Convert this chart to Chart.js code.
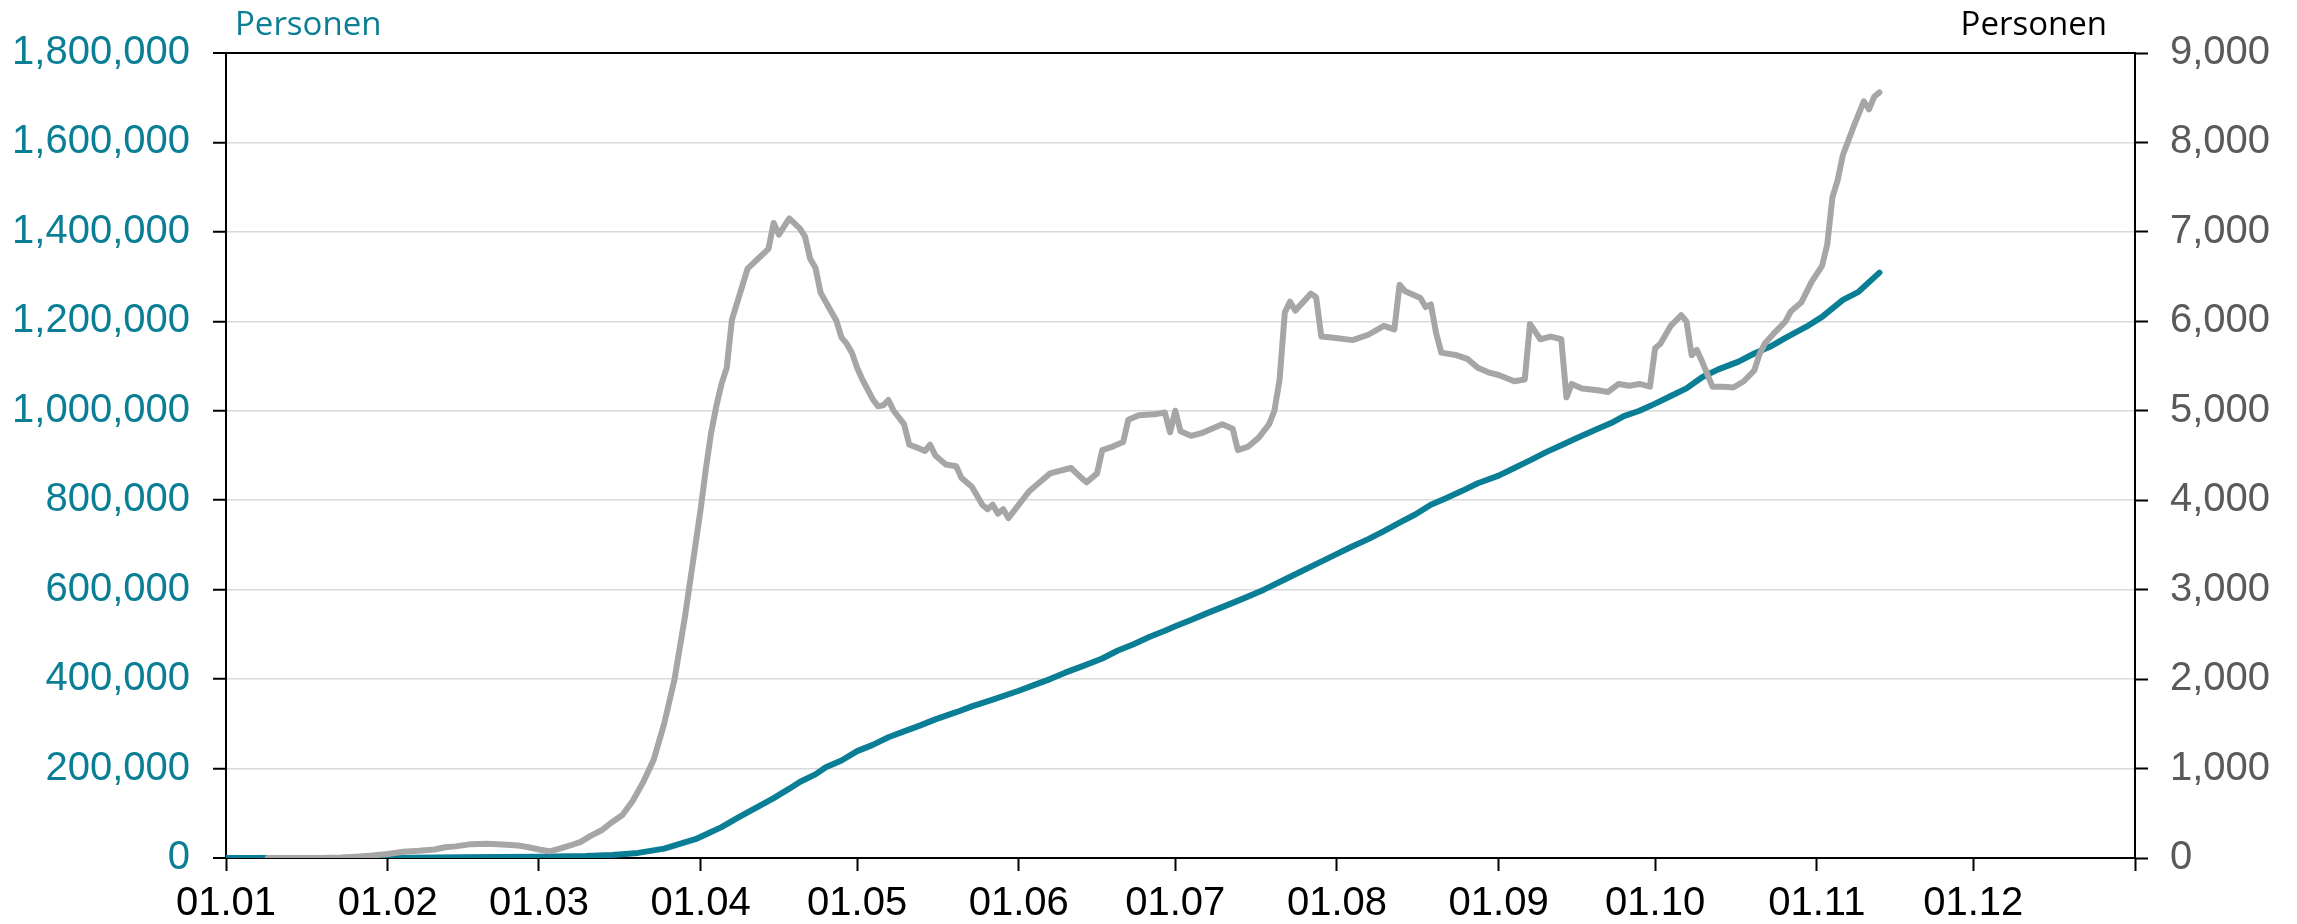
<!DOCTYPE html>
<html><head><meta charset="utf-8">
<script src="https://cdn.jsdelivr.net/npm/chart.js@4"></script>
<style>
html,body{margin:0;padding:0;background:#fff;}
#wrap{position:relative;width:2297px;height:924px;overflow:hidden;}
canvas{position:absolute;left:0;top:0;}
.ttl{position:absolute;font-family:"Open Sans",sans-serif;font-size:33px;line-height:33px;white-space:nowrap;}
</style></head><body>
<div id="wrap"><canvas id="c" width="2297" height="924"></canvas>
<div class="ttl" style="left:235px;top:6px;color:#0a7e95">Personen</div>
<div class="ttl" style="right:190px;top:6px;color:#000">Personen</div>
</div>
<script>
// x axis: day of year 2020 (0 = 01.01)
const monthStarts = [0,31,60,91,121,152,182,213,244,274,305,335,366];
const monthLabels = ['01.01','01.02','01.03','01.04','01.05','01.06','01.07','01.08','01.09','01.10','01.11','01.12',''];
const leftTicks = [0,200000,400000,600000,800000,1000000,1200000,1400000,1600000,1800000];
const rightTicks = [0,1000,2000,3000,4000,5000,6000,7000,8000,9000];

// Daily deaths (right axis), grey
const dailyDay = [8,18,22,25,28,31,34,37,40,42,44,47,50,53,56,58,60,62,64,66,68,70,72,74,76,78,80,82,84,86,87,88,89,90,91,92,93,94,95,96,97,100,102,104,105,106,108,110,111,112,113,114,117,118,119,120,121,122,124,125,126,127,128,130,131,132,134,135,136,137,138,140,141,143,145,146,147,148,149,150,152,154,156,158,160,162,164,165,166,167,168,170,172,173,175,178,180,181,182,183,185,187,189,191,193,194,196,198,200,201,202,203,204,205,208,209,210,212,216,219,222,224,225,226,229,230,231,232,233,236,238,240,242,244,247,249,250,252,254,256,257,258,260,263,265,267,269,271,273,274,275,277,279,280,281,282,283,285,287,289,291,293,294,295,297,299,300,302,304,306,307,308,309,310,312,314,315,316,317];
const dailyDeaths = [0,1,5,15,28,45,70,80,95,120,130,155,160,150,140,120,95,75,105,140,180,250,310,400,480,640,850,1100,1500,2000,2350,2700,3100,3500,3900,4350,4750,5050,5300,5480,6020,6590,6700,6810,7100,6970,7150,7040,6950,6700,6600,6320,6010,5820,5750,5650,5480,5350,5130,5050,5060,5120,5000,4850,4620,4600,4550,4620,4500,4450,4400,4380,4250,4150,3950,3900,3950,3850,3900,3800,3950,4100,4200,4300,4330,4360,4250,4200,4250,4300,4560,4600,4650,4900,4950,4960,4980,4760,5000,4770,4720,4750,4800,4850,4800,4560,4600,4700,4850,5000,5350,6100,6220,6120,6310,6270,5830,5820,5790,5850,5950,5910,6410,6340,6260,6160,6190,5870,5650,5620,5580,5480,5430,5400,5330,5350,5970,5800,5830,5800,5150,5300,5250,5230,5210,5300,5280,5300,5270,5700,5750,5950,6070,6000,5620,5680,5550,5270,5270,5260,5330,5450,5630,5750,5880,6000,6110,6210,6440,6620,6860,7390,7580,7860,8170,8460,8370,8510,8560];

// Cumulative deaths (left axis), teal
const cumDay = [0,21,31,45,60,69,74,79,84,90,93,95,98,100,103,105,108,110,113,115,118,121,124,127,130,133,136,140,143,147,152,155,158,161,164,168,171,174,177,180,182,185,188,191,195,199,202,206,209,213,216,219,222,225,228,231,234,237,240,244,247,250,253,256,259,263,266,268,271,274,277,280,283,286,290,293,296,299,303,306,310,313,317];
const cumDeaths = [0,17,260,1500,3000,4300,6500,11400,21000,42000,58000,69000,89000,102000,121000,134000,155000,170000,187000,203000,218000,239000,253000,270000,283000,296000,310000,326000,339000,354000,374000,387000,400000,415000,428000,446000,464000,478000,494000,508000,518000,532000,547000,561000,580000,600000,617000,640000,657000,680000,697000,713000,731000,750000,768000,790000,805000,821000,838000,855000,872000,889000,907000,923000,939000,960000,975000,988000,1000000,1016000,1033000,1050000,1075000,1092000,1110000,1128000,1143000,1163000,1188000,1210000,1248000,1266000,1309000];

const TEAL = '#0a7e95';
const GREY = '#a6a6a6';
const FONT = {family:'"Liberation Sans", Arial, sans-serif', size:40};

new Chart(document.getElementById('c'), {
  type:'line',
  data:{datasets:[
    {label:'daily', data: dailyDay.map((d,i)=>({x:d,y:dailyDeaths[i]})), yAxisID:'yR', borderColor:GREY, borderWidth:6, pointRadius:0, tension:0, borderJoinStyle:'round', borderCapStyle:'round'},
    {label:'cum', data: cumDay.map((d,i)=>({x:d,y:cumDeaths[i]})), yAxisID:'yL', borderColor:TEAL, borderWidth:6, pointRadius:0, tension:0, borderJoinStyle:'round', borderCapStyle:'round'}
  ]},
  options:{
    responsive:false, devicePixelRatio:1, animation:false,
    layout:{padding:{top:53,left:0,right:0,bottom:0}},
    plugins:{legend:{display:false}, tooltip:{enabled:false}, title:{display:false}},
    scales:{
      x:{type:'linear', min:0, max:366,
        afterBuildTicks:s=>{ s.ticks = monthStarts.map(v=>({value:v})); },
        ticks:{autoSkip:false, maxRotation:0, minRotation:0, padding:9, color:'#000', font:FONT, callback:(v,i)=>monthLabels[i] ?? ''},
        grid:{drawOnChartArea:false, drawTicks:true, tickLength:13, tickColor:'#000', tickWidth:2},
        border:{display:true, color:'#000', width:2},
        afterFit:s=>{ s.height = 66; }
      },
      yL:{type:'linear', position:'left', min:0, max:1800000,
        afterBuildTicks:s=>{ s.ticks = leftTicks.map(v=>({value:v})); },
        ticks:{color:TEAL, font:FONT, padding:23, callback:v=>v.toLocaleString('en-US')},
        grid:{color:c=> (c.tick && (c.tick.value===1800000||c.tick.value===0)) ? '#000' : '#d9d9d9',
              lineWidth:c=> (c.tick && (c.tick.value===1800000||c.tick.value===0)) ? 2 : 1.5,
              tickColor:'#000', tickLength:13, tickWidth:2},
        border:{display:true, color:'#000', width:2},
        afterFit:s=>{ s.width = 226; }
      },
      yR:{type:'linear', position:'right', min:0, max:9000,
        afterBuildTicks:s=>{ s.ticks = rightTicks.map(v=>({value:v})); },
        ticks:{color:'#5a5a5a', font:FONT, padding:22, callback:v=>v.toLocaleString('en-US')},
        grid:{drawOnChartArea:false, tickColor:'#000', tickLength:13, tickWidth:2},
        border:{display:true, color:'#000', width:2},
        afterFit:s=>{ s.width = 162; }
      }
    }
  }
});
</script>
</body></html>
